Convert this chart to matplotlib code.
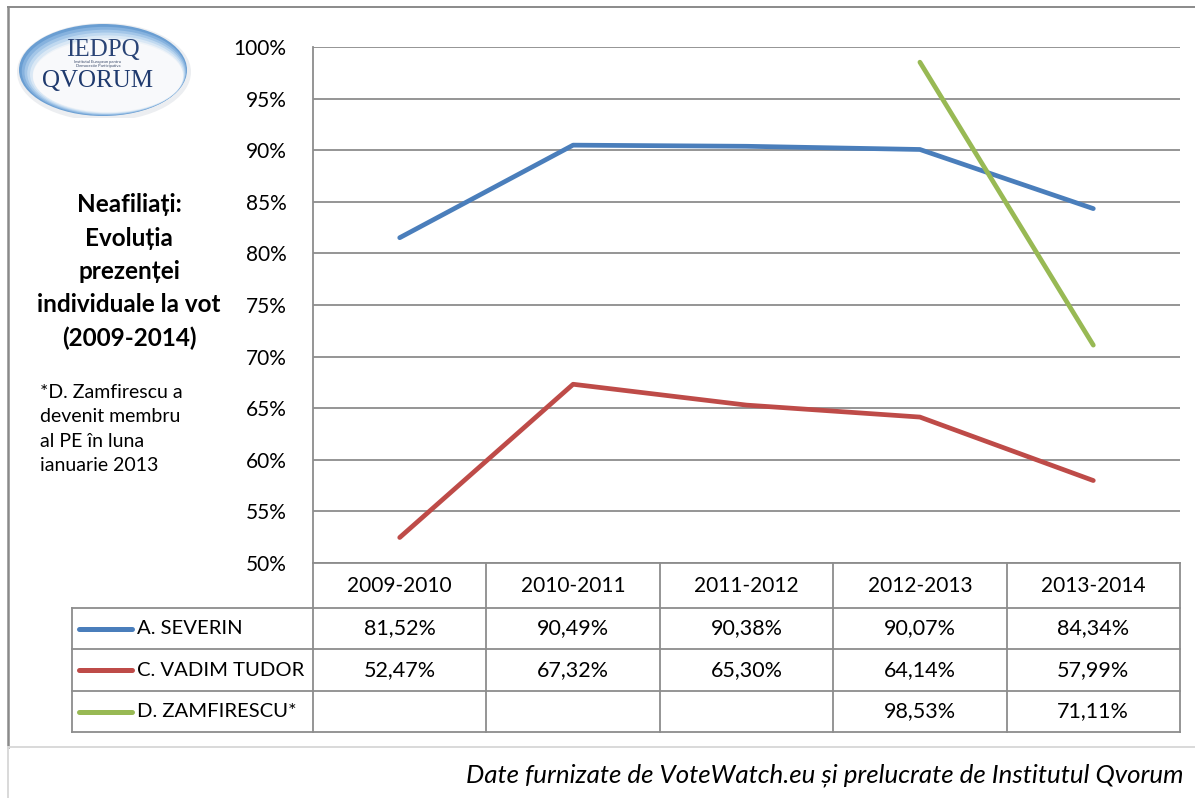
import matplotlib
matplotlib.use("Agg")
import matplotlib.pyplot as plt
from matplotlib.patches import Ellipse
from matplotlib.lines import Line2D

# ---------------- data ----------------
periods = ["2009-2010", "2010-2011", "2011-2012", "2012-2013", "2013-2014"]
series_names = ["A. SEVERIN", "C. VADIM TUDOR", "D. ZAMFIRESCU*"]
severin = [81.52, 90.49, 90.38, 90.07, 84.34]
vadim_tudor = [52.47, 67.32, 65.30, 64.14, 57.99]
zamfirescu = [None, None, None, 98.53, 71.11]
y_ticks = [50, 55, 60, 65, 70, 75, 80, 85, 90, 95, 100]
title_lines = ["Neafiliați:", "Evoluția", "prezenței", "individuale la vot", "(2009-2014)"]
note_lines = ["*D. Zamfirescu a", "devenit membru", "al PE în luna", "ianuarie 2013"]
footer = "Date furnizate de VoteWatch.eu și prelucrate de Institutul Qvorum"

series_values = [severin, vadim_tudor, zamfirescu]
colors = ["#4A7EBB", "#BE4B48", "#98B954"]

plt.rcParams["font.family"] = ["Lato", "DejaVu Sans"]

W, H = 1195, 798
fig = plt.figure(figsize=(W / 100, H / 100), dpi=100)
fig.patch.set_facecolor("white")


def fx(px):
    return px / W


def fy(py):
    return 1 - py / H


GRID = "#8C8C8C"

# ---------------- outer frame ----------------
fig.add_artist(Line2D([fx(8), fx(1195)], [fy(7), fy(7)], color="#8A8A8A", lw=1.4))
fig.add_artist(Line2D([fx(8), fx(8)], [fy(7), fy(747)], color="#8A8A8A", lw=1.8))
fig.add_artist(Line2D([fx(8), fx(8)], [fy(747), fy(798)], color="#D9D9D9", lw=1.4))
fig.add_artist(Line2D([fx(8), fx(1195)], [fy(747), fy(747)], color="#D9D9D9", lw=1.4))

# ---------------- main plot ----------------
L, R, T, B = 313, 1180, 47, 563
ax = fig.add_axes([fx(L), fy(B), fx(R) - fx(L), fy(T) - fy(B)])
ax.set_xlim(0, len(periods))
ax.set_ylim(y_ticks[0], y_ticks[-1])
ax.set_yticks(y_ticks)
ax.set_yticklabels([f"{v}%" for v in y_ticks])
ax.set_xticks([])
ax.grid(axis="y", color=GRID, lw=1.3)
ax.set_axisbelow(True)
for s in ["top", "right", "bottom"]:
    ax.spines[s].set_visible(False)
ax.spines["left"].set_color(GRID)
ax.spines["left"].set_linewidth(1.3)
ax.tick_params(axis="y", length=0, pad=19, labelsize=15, colors="black")

xs = [i + 0.5 for i in range(len(periods))]
for vals, c in zip(series_values, colors):
    px = [x for x, v in zip(xs, vals) if v is not None]
    pv = [v for v in vals if v is not None]
    ax.plot(px, pv, color=c, lw=3.4, solid_capstyle="round", solid_joinstyle="round",
            clip_on=False, zorder=3)

# ---------------- data table ----------------
TL, TB = 72, 732
colw = (R - L) / len(periods)
row_edges = [0, 45, 86, 128, 169]  # header, 3 rows (pixels below B)
axt = fig.add_axes([fx(TL), fy(TB), fx(R) - fx(TL), fy(B) - fy(TB)])
axt.set_xlim(-(L - TL) / colw, len(periods))
axt.set_ylim(row_edges[-1], 0)
axt.axis("off")


def px2d(p):
    return (p - L) / colw


lw_t = 1.3
for i, y in enumerate(row_edges):
    x0 = 0 if i == 0 else px2d(TL)
    axt.plot([x0, len(periods)], [y, y], color=GRID, lw=lw_t, clip_on=False)
axt.plot([px2d(TL)] * 2, [row_edges[1], row_edges[-1]], color=GRID, lw=lw_t, clip_on=False)
for k in range(len(periods) + 1):
    axt.plot([k, k], [0, row_edges[-1]], color=GRID, lw=lw_t, clip_on=False)

for k, p in enumerate(periods):
    axt.text(k + 0.5, (row_edges[0] + row_edges[1]) / 2, p, ha="center", va="center",
             fontsize=15)
for r, (name, vals, c) in enumerate(zip(series_names, series_values, colors)):
    yc = (row_edges[r + 1] + row_edges[r + 2]) / 2
    axt.plot([px2d(79), px2d(132)], [yc, yc], color=c, lw=3.6, solid_capstyle="round",
             clip_on=False)
    axt.text(px2d(137), yc, name, ha="left", va="center", fontsize=14.6)
    for k, v in enumerate(vals):
        if v is None:
            continue
        axt.text(k + 0.5, yc, f"{v:.2f}%".replace(".", ","), ha="center", va="center",
                 fontsize=15.5)

# ---------------- left texts ----------------
ty0, tdy = 205, 33.3
for i, line in enumerate(title_lines):
    fig.text(fx(129), fy(ty0 + i * tdy), line, ha="center", va="center",
             fontsize=17.5, fontweight="bold")
ny0, ndy = 392, 24.5
for i, line in enumerate(note_lines):
    fig.text(fx(40), fy(ny0 + i * ndy), line, ha="left", va="center", fontsize=14)

# ---------------- footer ----------------
fig.text(fx(1183), fy(775), footer, ha="right", va="center", fontsize=18.6,
         fontstyle="italic")

# ---------------- logo ----------------
axl = fig.add_axes([fx(10), fy(118), fx(195) - fx(10), fy(10) - fy(118)])
axl.set_xlim(10, 195)
axl.set_ylim(118, 10)
axl.axis("off")
axl.add_patch(Ellipse((104, 72), 174, 98, facecolor="#ECEEF1", edgecolor="none"))
ring = ["#6A9ED2", "#86B2DE", "#A3C6E8", "#C0D9F0", "#DAE8F5", "#EEF3F8"]
for i, c in enumerate(ring):
    axl.add_patch(Ellipse((103 + i * 1.0, 70 + i * 1.1), 168 - i * 3.5, 92 - i * 3.5,
                          facecolor=c, edgecolor="none"))
axl.add_patch(Ellipse((108, 76), 150, 72, facecolor="#F8F9FB", edgecolor="none"))
axl.text(103, 50, "IEDPQ", ha="center", va="center", fontsize=18, color="#2A4476",
         family=["Liberation Serif", "DejaVu Serif"])
axl.text(98, 64, "Institutul European pentru\nDemocratie Participativa", ha="center",
         va="center", fontsize=3, color="#3A4A6A", linespacing=1.0)
axl.text(98, 81, "QVORUM", ha="center", va="center", fontsize=18, color="#1F3A6E",
         family=["Liberation Serif", "DejaVu Serif"])

fig.savefig("out.png", dpi=100, facecolor="white")
